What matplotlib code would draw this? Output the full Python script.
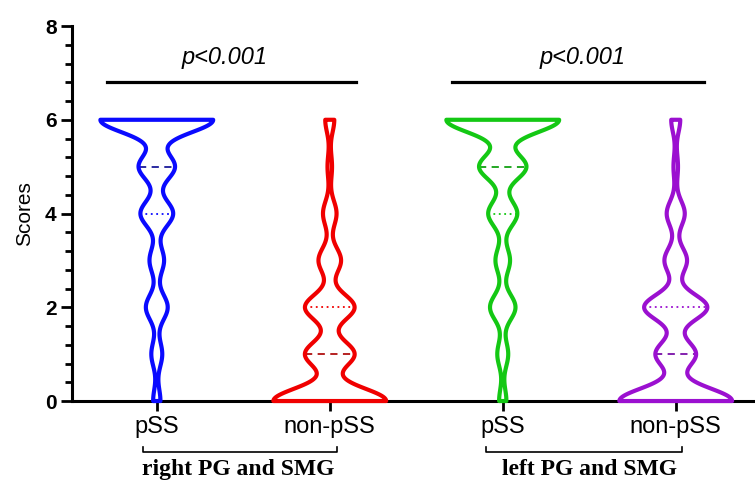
import numpy as np
import matplotlib.pyplot as plt
from matplotlib.ticker import MultipleLocator
import matplotlib.transforms as mtransforms

plt.rcParams['font.family'] = ['Liberation Sans', 'DejaVu Sans']

# score values and how many patients had each score
scores = np.arange(0, 7)
right_pss = [2, 3, 6, 4, 9, 10, 31]
right_non = [25, 11, 11, 5, 3, 1, 2]
left_pss = [2, 3, 7, 4, 8, 13, 31]
left_non = [25, 9, 14, 5, 4, 1, 2]

groups = [right_pss, right_non, left_pss, left_non]
colors = ['#0a0aff', '#f00000', '#14c814', '#9b10d0']
dark = ['#1a1a9a', '#b01010', '#12a012', '#7a10a8']
tick_labels = ['pSS', 'non-pSS', 'pSS', 'non-pSS']
group_names = ['right PG and SMG', 'left PG and SMG']
p_text = ['p<0.001', 'p<0.001']

bw = 0.27          # kernel bandwidth (score units)
half_width = 0.326  # half of the widest violin, in x units

fig = plt.figure(figsize=(7.55, 4.82), dpi=100)
ax = fig.add_axes([0.0954, 0.168, 0.905, 0.778])


def density(y, counts):
    d = np.zeros_like(y)
    for s, n in zip(scores, counts):
        d += n * np.exp(-(y - s) ** 2 / (2 * bw ** 2))
    return d


for i, (counts, col) in enumerate(zip(groups, colors)):
    data = np.repeat(scores, counts)
    y = np.linspace(data.min(), data.max(), 600)
    d = density(y, counts)
    w = half_width * d / d.max()
    ax.fill_betweenx(y, i - w, i + w, facecolor='none', edgecolor=col,
                     lw=3, zorder=4, clip_on=False)
    q1, med, q3 = np.percentile(data, [25, 50, 75])
    for q, ls, c in [(med, (0, (4, 3)), dark[i]), (q1, (0, (1, 2)), col),
                     (q3, (0, (1, 2)), col)]:
        if q <= data.min() or q >= data.max():
            continue
        wq = half_width * density(np.array([q]), counts)[0] / d.max()
        ax.plot([i - wq, i + wq], [q, q], color=c, lw=1.3, ls=ls, zorder=3)

ax.set_xlim(-0.49, 3.46)
ax.set_ylim(0, 8)
ax.set_xticks(range(4))
ax.set_xticklabels(tick_labels, fontsize=17)
ax.yaxis.set_major_locator(MultipleLocator(2))
ax.yaxis.set_minor_locator(MultipleLocator(0.4))
for lab in ax.get_yticklabels():
    lab.set_fontweight('bold')
    lab.set_fontsize(15)
ax.tick_params(axis='y', which='major', length=8, width=2, pad=3)
ax.tick_params(axis='y', which='minor', length=5, width=2)
ax.tick_params(axis='x', which='major', length=7, width=2, pad=4)
ax.set_ylabel('Scores', fontsize=15, labelpad=8)
for s in ['top', 'right']:
    ax.spines[s].set_visible(False)
for s in ['left', 'bottom']:
    ax.spines[s].set_linewidth(2.2)

# significance bars
sig_x = [(-0.29, 1.154), (1.708, 3.162)]
sig_tx = [0.39, 2.46]
for (x0, x1), tx, pt in zip(sig_x, sig_tx, p_text):
    ax.plot([x0, x1], [6.8, 6.8], color='black', lw=2.3, clip_on=False)
    ax.text(tx, 7.08, pt, fontsize=17, style='italic', ha='center', va='bottom')

# group brackets under the axis
trans = mtransforms.blended_transform_factory(ax.transData, ax.transAxes)
br_x = [(-0.081, 1.039), (1.904, 3.035)]
name_x = [0.473, 2.50]
for (x0, x1), nx, name in zip(br_x, name_x, group_names):
    ax.plot([x0, x0, x1, x1], [-0.123, -0.137, -0.137, -0.123], color='black',
            lw=1.2, transform=trans, clip_on=False)
    ax.text(nx, -0.182, name, transform=trans, ha='center', va='center',
            fontsize=17, fontweight='bold', family='Liberation Serif')

fig.savefig('out.png', dpi=100)
